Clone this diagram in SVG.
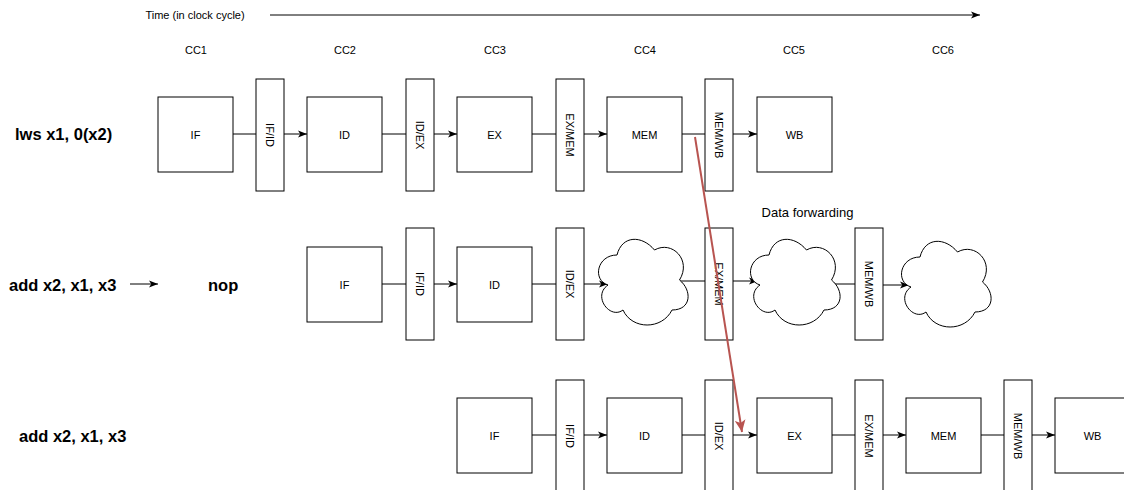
<svg xmlns="http://www.w3.org/2000/svg" width="1124" height="490" viewBox="0 0 1124 490">
<style>
text{font-family:"Liberation Sans",Arial,sans-serif;fill:#000}
.t{font-size:11px;text-anchor:middle;dominant-baseline:central}
.b{font-size:16.5px;font-weight:bold;dominant-baseline:central}
.box{fill:#fff;stroke:#000;stroke-width:1}
.ln{fill:none;stroke:#000;stroke-width:1}
.ar{fill:none;stroke:#000;stroke-width:1;marker-end:url(#ah)}
.red{fill:none;stroke:#b85450;stroke-width:2;marker-end:url(#rah)}
</style>
<defs>
<marker id="ah" viewBox="0 0 10 8" refX="10" refY="4" markerWidth="9" markerHeight="7.2" markerUnits="userSpaceOnUse" orient="auto">
<path d="M0,0 L10,4 L0,8 L2.5,4 Z" fill="#000"/>
</marker>
<marker id="rah" viewBox="0 0 10 9" refX="10" refY="4.5" markerWidth="12" markerHeight="11" markerUnits="userSpaceOnUse" orient="auto">
<path d="M0,0 L10,4.5 L0,9 L2.5,4.5 Z" fill="#b85450"/>
</marker>
<path id="cloud" d="M25,25 C5,25 0,50 16,55 C0,66 18,90 31,80 C40,100 70,100 80,80 C100,80 100,60 87.5,50 C100,30 80,10 62.5,20 C50,5 30,5 25,25 Z" fill="#fff" stroke="#000" stroke-width="1"/>
</defs>

<g id="header">
<text class="t" x="195" y="15">Time (in clock cycle)</text>
<text class="t" x="196" y="50">CC1</text>
<text class="t" x="345" y="50">CC2</text>
<text class="t" x="495" y="50">CC3</text>
<text class="t" x="645" y="50">CC4</text>
<text class="t" x="794" y="50">CC5</text>
<text class="t" x="943" y="50">CC6</text>
<text class="t" x="807.5" y="212" style="font-size:13px">Data forwarding</text>
</g>

<g id="labels">
<text class="b" x="15" y="134">lws x1, 0(x2)</text>
<text class="b" x="9" y="285">add x2, x1, x3</text>
<text class="b" x="208" y="285">nop</text>
<text class="b" x="19" y="436">add x2, x1, x3</text>
</g>

<g id="connectors">
<path class="ar" d="M270,15 L980,15"/>
<path class="ar" d="M130,284 L158,284"/>
<!-- row 1 -->
<path class="ln" d="M233,134 L256,134"/>
<path class="ar" d="M284,134 L307,134"/>
<path class="ln" d="M382,134 L406,134"/>
<path class="ar" d="M434,134 L457,134"/>
<path class="ln" d="M532,134 L556,134"/>
<path class="ar" d="M584,134 L607,134"/>
<path class="ln" d="M682,134 L705,134"/>
<path class="ar" d="M733,134 L757,134"/>
<!-- row 2 -->
<path class="ln" d="M382,284 L406,284"/>
<path class="ar" d="M434,284 L457,284"/>
<path class="ln" d="M532,284 L556,284"/>
<path class="ar" d="M584,284 L608,284"/>
<path class="ln" d="M680,281 L705,281"/>
<path class="ar" d="M733,281 L758,281"/>
<path class="ln" d="M832,284 L855,284"/>
<path class="ar" d="M883,285 L909,285"/>
<!-- row 3 -->
<path class="ln" d="M532,435 L556,435"/>
<path class="ar" d="M584,435 L607,435"/>
<path class="ln" d="M682,435 L705,435"/>
<path class="ar" d="M733,435 L757,435"/>
<path class="ln" d="M832,435 L855,435"/>
<path class="ar" d="M883,435 L906,435"/>
<path class="ln" d="M981,435 L1004,435"/>
<path class="ar" d="M1032,435 L1055,435"/>
</g>

<!-- row 1 -->
<g id="r1-IF"><rect class="box" x="158" y="97" width="75" height="75"/><text class="t" x="195.5" y="134.5">IF</text></g>
<g id="r1-IFID"><rect class="box" x="256" y="79" width="28" height="112"/><text class="t" transform="translate(270,135) rotate(90)">IF/ID</text></g>
<g id="r1-ID"><rect class="box" x="307" y="97" width="75" height="75"/><text class="t" x="344.5" y="134.5">ID</text></g>
<g id="r1-IDEX"><rect class="box" x="406" y="79" width="28" height="112"/><text class="t" transform="translate(420,135) rotate(90)">ID/EX</text></g>
<g id="r1-EX"><rect class="box" x="457" y="97" width="75" height="75"/><text class="t" x="494.5" y="134.5">EX</text></g>
<g id="r1-EXMEM"><rect class="box" x="556" y="79" width="28" height="112"/><text class="t" transform="translate(570,135) rotate(90)">EX/MEM</text></g>
<g id="r1-MEM"><rect class="box" x="607" y="97" width="75" height="75"/><text class="t" x="644.5" y="134.5">MEM</text></g>
<g id="r1-MEMWB"><rect class="box" x="705" y="79" width="28" height="112"/><text class="t" transform="translate(719,135) rotate(90)">MEM/WB</text></g>
<g id="r1-WB"><rect class="box" x="757" y="97" width="75" height="75"/><text class="t" x="794.5" y="134.5">WB</text></g>

<!-- row 2 -->
<g id="r2-IF"><rect class="box" x="307" y="247" width="75" height="75"/><text class="t" x="344.5" y="284.5">IF</text></g>
<g id="r2-IFID"><rect class="box" x="406" y="228" width="28" height="112"/><text class="t" transform="translate(420,284) rotate(90)">IF/ID</text></g>
<g id="r2-ID"><rect class="box" x="457" y="247" width="75" height="75"/><text class="t" x="494.5" y="284.5">ID</text></g>
<g id="r2-IDEX"><rect class="box" x="556" y="228" width="28" height="112"/><text class="t" transform="translate(570,284) rotate(90)">ID/EX</text></g>
<g id="r2-cloud1"><use href="#cloud" x="592" y="230"/></g>
<g id="r2-EXMEM"><rect class="box" x="705" y="228" width="28" height="112"/><text class="t" transform="translate(719,284) rotate(90)">EX/MEM</text></g>
<g id="r2-cloud2"><use href="#cloud" x="744" y="230"/></g>
<g id="r2-MEMWB"><rect class="box" x="855" y="228" width="28" height="112"/><text class="t" transform="translate(869,284) rotate(90)">MEM/WB</text></g>
<g id="r2-cloud3"><use href="#cloud" x="895" y="232"/></g>

<!-- row 3 -->
<g id="r3-IF"><rect class="box" x="457" y="398" width="75" height="75"/><text class="t" x="494.5" y="435.5">IF</text></g>
<g id="r3-IFID"><rect class="box" x="556" y="380" width="28" height="112"/><text class="t" transform="translate(570,436) rotate(90)">IF/ID</text></g>
<g id="r3-ID"><rect class="box" x="607" y="398" width="75" height="75"/><text class="t" x="644.5" y="435.5">ID</text></g>
<g id="r3-IDEX"><rect class="box" x="705" y="380" width="28" height="112"/><text class="t" transform="translate(719,436) rotate(90)">ID/EX</text></g>
<g id="r3-EX"><rect class="box" x="757" y="398" width="75" height="75"/><text class="t" x="794.5" y="435.5">EX</text></g>
<g id="r3-EXMEM"><rect class="box" x="855" y="380" width="28" height="112"/><text class="t" transform="translate(869,436) rotate(90)">EX/MEM</text></g>
<g id="r3-MEM"><rect class="box" x="906" y="398" width="75" height="75"/><text class="t" x="943.5" y="435.5">MEM</text></g>
<g id="r3-MEMWB"><rect class="box" x="1004" y="380" width="28" height="112"/><text class="t" transform="translate(1018,436) rotate(90)">MEM/WB</text></g>
<g id="r3-WB"><rect class="box" x="1055" y="398" width="75" height="75"/><text class="t" x="1092.5" y="435.5">WB</text></g>

<g id="forwarding">
<path class="red" d="M695,137 L742,432"/>
</g>
</svg>
